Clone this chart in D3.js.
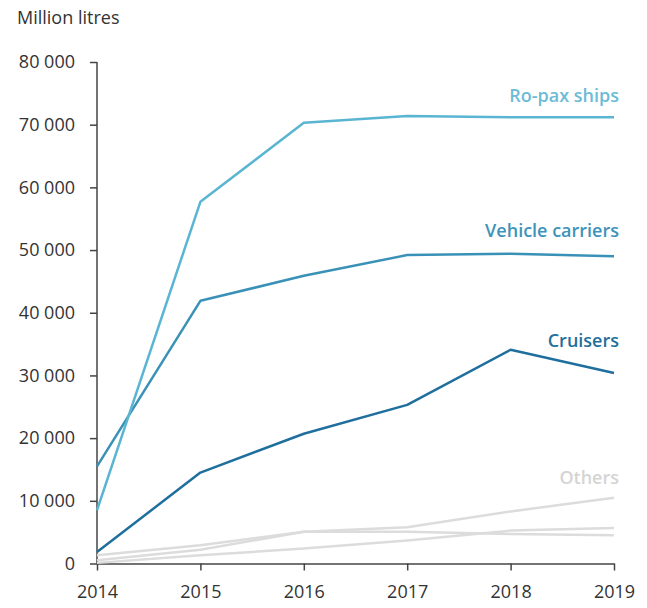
<!DOCTYPE html>
<html><head><meta charset="utf-8">
<script src="https://cdn.jsdelivr.net/npm/d3@7"></script>
<style>body{margin:0;background:#fff;} text{font-family:"Open Sans",sans-serif;}</style>
</head><body><svg id="c" width="647" height="608"></svg>
<script>
const years = [2014, 2015, 2016, 2017, 2018, 2019];
const roPax = [8500, 57700, 70300, 71400, 71200, 71200];
const vehicleCarriers = [15500, 41900, 45900, 49200, 49400, 49000];
const cruisers = [1850, 14500, 20700, 25300, 34100, 30400];
const others1 = [1300, 2900, 5050, 5800, 8300, 10500];
const others2 = [500, 2200, 5050, 5050, 4700, 4500];
const others3 = [100, 1300, 2400, 3650, 5250, 5650];
const yTicks = [0, 10000, 20000, 30000, 40000, 50000, 60000, 70000, 80000];

const svg = d3.select("#c");
const x = d3.scaleLinear().domain([2014, 2019]).range([97, 614]);
const y = d3.scaleLinear().domain([0, 80000]).range([563.5, 62]);
const fmt = v => d3.format(",")(v).replace(/,/g, " ");

const yAxis = svg.append("g").attr("transform", "translate(97,0)")
  .call(d3.axisLeft(y).tickValues(yTicks).tickFormat(fmt).tickSize(7).tickSizeOuter(0).tickPadding(15));
const xAxis = svg.append("g").attr("transform", "translate(0,563.5)")
  .call(d3.axisBottom(x).tickValues(years).tickFormat(d3.format("d")).tickSize(7).tickSizeOuter(0).tickPadding(15));
[yAxis, xAxis].forEach(a => {
  a.selectAll("path,line").attr("stroke", "#444").attr("stroke-width", 1.5);
  a.selectAll("text").attr("fill", "#333").style("font-size", "18px").style("font-family", "'Open Sans',sans-serif");
});
yAxis.select(".domain").attr("d", "M0," + y(80000) + "V" + y(0));

svg.append("text").attr("x", 17).attr("y", 24).attr("fill", "#333")
  .style("font-size", "18px").text("Million litres");

const line = d3.line().x((d, i) => x(years[i])).y(d => y(d));
const series = [
  {v: others3, c: "#dcdcdc"},
  {v: others2, c: "#dcdcdc"},
  {v: others1, c: "#dcdcdc"},
  {v: cruisers, c: "#1f6f9e"},
  {v: vehicleCarriers, c: "#3a91b8"},
  {v: roPax, c: "#5ab5d2"}
];
series.forEach(s => svg.append("path").datum(s.v).attr("d", line)
  .attr("fill", "none").attr("stroke", s.c).attr("stroke-width", 2.5).attr("stroke-linejoin", "round"));

const labels = [
  {t: "Ro-pax ships", yy: 102, c: "#6cbbd6"},
  {t: "Vehicle carriers", yy: 237, c: "#3d93ba"},
  {t: "Cruisers", yy: 347, c: "#236f9c"},
  {t: "Others", yy: 484, c: "#d4d4d4"}
];
labels.forEach(l => svg.append("text").attr("x", 619).attr("y", l.yy).attr("text-anchor", "end")
  .attr("fill", l.c).style("font-size", "18px").style("font-weight", 600).text(l.t));
</script></body></html>
